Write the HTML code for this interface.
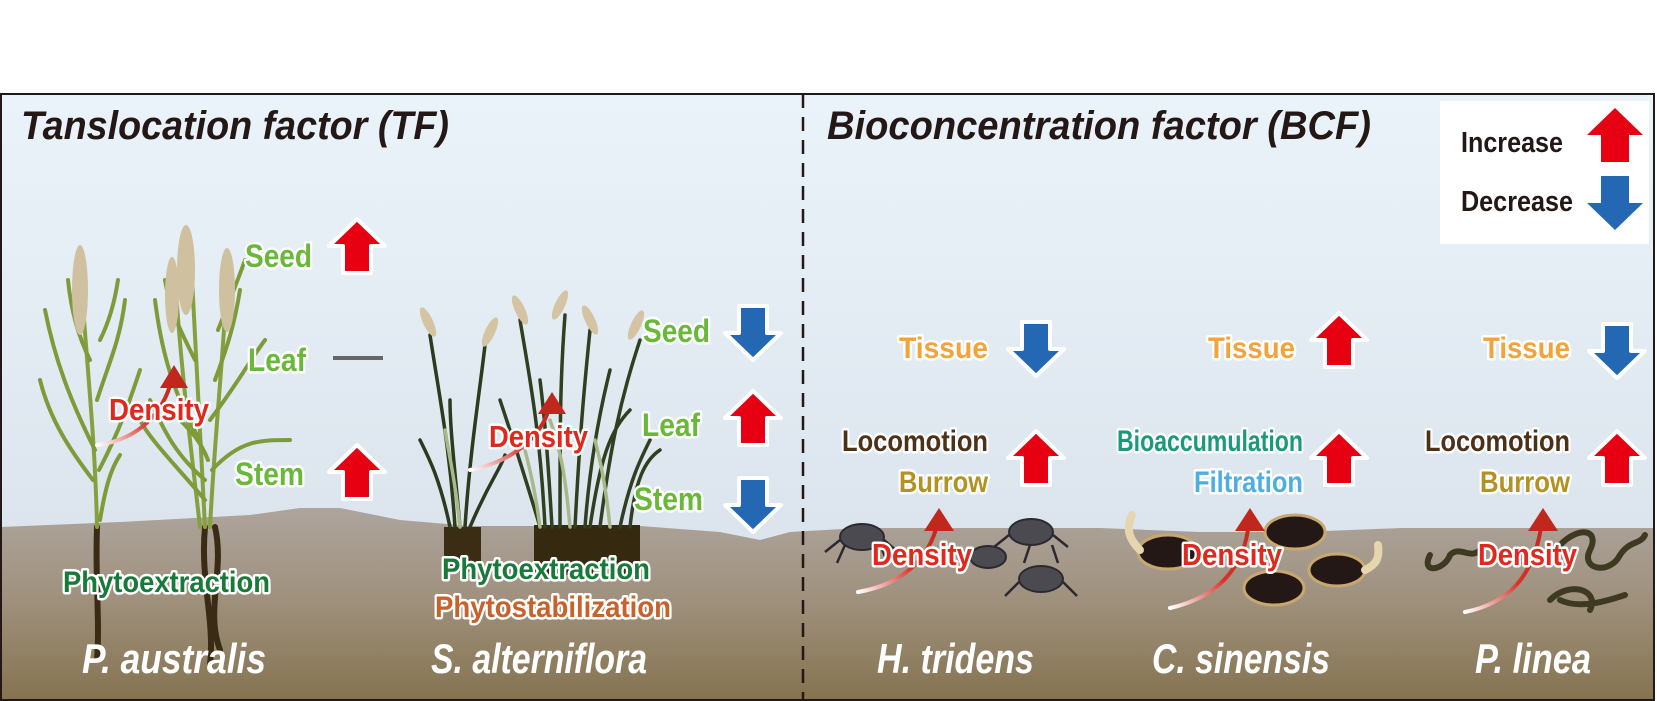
<!DOCTYPE html>
<html><head><meta charset="utf-8"><style>
html,body{margin:0;padding:0;background:#fff}
svg{display:block}
text{font-family:"Liberation Sans Narrow","Liberation Sans",sans-serif;font-weight:bold}
.o{stroke:#fff;stroke-width:5;paint-order:stroke;stroke-linejoin:round}
.sp{font-style:italic;fill:#fff;font-size:42px}
.ti{font-style:italic;fill:#231815;font-size:40px}
</style></head><body>
<svg width="1657" height="701" viewBox="0 0 1657 701" xmlns="http://www.w3.org/2000/svg">
<defs>
<linearGradient id="sky" x1="0" y1="0" x2="0" y2="1">
<stop offset="0" stop-color="#ebf3fa"/><stop offset="1" stop-color="#d6dfe8"/></linearGradient>
<linearGradient id="gr" x1="0" y1="0" x2="0" y2="1">
<stop offset="0" stop-color="#ada49d"/><stop offset="0.45" stop-color="#a0927f"/><stop offset="1" stop-color="#857350"/></linearGradient>
<linearGradient id="da" x1="0" y1="1" x2="1" y2="0">
<stop offset="0" stop-color="#fff"/><stop offset="0.5" stop-color="#d8322a"/><stop offset="1" stop-color="#c0281e"/></linearGradient>
<polygon id="up" points="0,0 28,27 14,27 14,54 -14,54 -14,27 -28,27"/>
<polygon id="dn" points="0,54 28,27 14,27 14,0 -14,0 -14,27 -28,27"/>
</defs>
<rect x="1" y="94" width="1653" height="606" fill="url(#sky)"/>
<path d="M1 527 L120 522 L250 515 L300 508 L340 508 L400 520 L470 526 L640 526 L720 532 L760 540 L790 532 L860 528 L1100 528 L1200 532 L1300 532 L1400 528 L1654 528 L1654 700 L1 700 Z" fill="url(#gr)"/>
<rect x="1" y="94" width="1653" height="606" fill="none" stroke="#231815" stroke-width="2"/>
<line x1="803" y1="94" x2="803" y2="700" stroke="#231815" stroke-width="2.5" stroke-dasharray="14,9"/>

<!-- P. australis -->
<g fill="none" stroke-linecap="round">
<path d="M97 527 C95 580 100 620 97 660 M205 527 C200 580 215 620 210 665 M215 527 C225 570 205 610 220 650" stroke="#3a2c14" stroke-width="6"/>
<path d="M97 527 C95 430 85 350 80 260 M205 527 C200 420 195 330 190 240 M210 527 C215 430 225 340 228 260 M200 527 C190 440 180 360 175 275" stroke="#86a040" stroke-width="4"/>
<path d="M95 450 C70 400 55 360 45 310 M97 400 C110 360 120 340 125 300 M93 480 C70 450 50 420 40 380 M99 470 C120 430 130 400 140 370 M100 520 C105 490 110 470 120 455 M200 440 C170 390 160 340 155 300 M210 420 C240 380 250 360 265 340 M205 480 C170 450 160 420 150 400 M212 470 C240 440 260 440 290 440 M205 500 C180 470 150 440 140 420 M215 380 C230 340 235 320 240 290 M90 360 C75 330 70 300 68 280 M100 340 C110 320 115 300 118 280 M195 360 C180 330 170 310 165 280 M218 330 C230 300 238 280 245 260 M208 460 C200 440 190 430 180 420" stroke="#7e9b3a" stroke-width="4"/>
</g>
<g fill="#cfc0a0">
<ellipse cx="80" cy="290" rx="8" ry="45"/><ellipse cx="186" cy="270" rx="9" ry="45"/><ellipse cx="227" cy="290" rx="8" ry="42"/><ellipse cx="172" cy="295" rx="7" ry="38"/>
</g>
<!-- S. alterniflora -->
<rect x="444" y="527" width="37" height="45" fill="#3a2d14"/>
<rect x="534" y="525" width="106" height="50" fill="#35290f"/>
<g fill="none" stroke-linecap="round" stroke-width="3.5">
<path d="M455 527 C450 450 440 400 430 335 M465 527 C470 450 480 390 485 345 M450 527 C440 480 430 460 420 440 M470 527 C490 480 500 470 505 455 M460 527 C455 470 450 430 450 400" stroke="#2c3a1e"/>
<path d="M545 527 C540 430 530 380 520 320 M560 527 C560 430 560 380 565 315 M575 527 C580 430 585 380 590 330 M600 527 C610 450 620 400 640 340 M620 527 C630 480 640 460 650 440 M540 527 C520 460 510 430 500 400 M590 527 C600 460 610 430 630 410 M552 527 C548 460 545 420 540 380 M585 527 C590 460 600 410 610 370 M630 527 C635 480 645 460 660 450" stroke="#2f4020"/>
<path d="M460 527 C455 480 450 460 445 430 M570 527 C565 470 560 450 550 420 M610 527 C605 480 600 460 595 440 M540 527 C535 490 530 470 525 450" stroke="#a8b888"/>
</g>
<g fill="#d4c4a4">
<ellipse cx="428" cy="322" rx="5" ry="16" transform="rotate(-25 428 322)"/><ellipse cx="490" cy="332" rx="5" ry="16" transform="rotate(25 490 332)"/>
<ellipse cx="520" cy="310" rx="5" ry="16" transform="rotate(-25 520 310)"/><ellipse cx="560" cy="305" rx="5" ry="16" transform="rotate(25 560 305)"/><ellipse cx="590" cy="320" rx="5" ry="16" transform="rotate(-25 590 320)"/><ellipse cx="636" cy="325" rx="5" ry="16" transform="rotate(25 636 325)"/>
</g>
<!-- crabs -->
<g fill="#4a4a50" stroke="#2a2a2e" stroke-width="2">
<ellipse cx="862" cy="537" rx="22" ry="13"/><ellipse cx="1031" cy="532" rx="22" ry="13"/><ellipse cx="988" cy="557" rx="18" ry="11"/><ellipse cx="1041" cy="579" rx="22" ry="13"/>
</g>
<g stroke="#2a2a2e" stroke-width="2.5" fill="none">
<path d="M840 540 l-15 12 M845 545 l-8 18 M884 540 l14 12 M880 545 l8 18 M1009 535 l-15 12 M1053 535 l15 12 M1019 582 l-14 14 M1063 582 l14 14 M1030 545 l-6 18 M1052 545 l6 18"/>
</g>
<!-- clams -->
<g fill="#231815" stroke="#c8a870" stroke-width="3">
<ellipse cx="1295" cy="532" rx="30" ry="17"/><ellipse cx="1168" cy="552" rx="30" ry="17"/><ellipse cx="1337" cy="570" rx="28" ry="16"/><ellipse cx="1274" cy="588" rx="30" ry="17"/>
</g>
<path d="M1140 550 C1130 540 1125 530 1132 515 M1365 570 C1375 565 1380 560 1378 545" stroke="#e6d6b0" stroke-width="8" fill="none" stroke-linecap="round"/>
<!-- worms -->
<g fill="none" stroke="#3e3a22" stroke-width="6" stroke-linecap="round">
<path d="M1430 555 C1420 575 1445 570 1450 555 C1460 545 1470 560 1480 550"/>
<path d="M1560 545 C1580 525 1600 530 1590 550 C1580 570 1610 575 1620 555 C1630 540 1640 545 1645 535"/>
<path d="M1550 600 C1570 580 1600 590 1590 610 M1560 600 C1580 610 1610 600 1625 595"/>
</g>

<!-- density arrows -->
<g fill="none" stroke="url(#da)" stroke-width="4" stroke-linecap="round">
<path d="M97 445 C140 440 165 410 172 378"/>
<path d="M470 470 C520 460 545 430 550 404"/>
<path d="M858 592 C900 585 930 560 938 521"/>
<path d="M1170 608 C1215 598 1245 570 1249 521"/>
<path d="M1465 612 C1510 603 1535 575 1542 521"/>
</g>
<g fill="#c0281e">
<polygon points="174,365 188,388 160,388"/><polygon points="552,392 566,414 538,414"/><polygon points="939,508 954,531 924,531"/><polygon points="1250,508 1265,531 1235,531"/><polygon points="1543,508 1558,531 1528,531"/>
</g>

<!-- arrows with white outline -->
<g stroke="#fff" stroke-width="4" stroke-linejoin="round">
<use href="#up" fill="#e60012" x="357" y="219"/>
<use href="#up" fill="#e60012" x="357" y="445"/>
<use href="#dn" fill="#2468b4" x="753" y="306"/>
<use href="#up" fill="#e60012" x="753" y="391"/>
<use href="#dn" fill="#2468b4" x="753" y="478"/>
<use href="#dn" fill="#2468b4" x="1036" y="322"/>
<use href="#up" fill="#e60012" x="1036" y="431"/>
<use href="#up" fill="#e60012" x="1339" y="313"/>
<use href="#up" fill="#e60012" x="1339" y="431"/>
<use href="#dn" fill="#2468b4" x="1617" y="324"/>
<use href="#up" fill="#e60012" x="1617" y="431"/>
</g>
<line x1="333" y1="358" x2="383" y2="358" stroke="#666" stroke-width="4"/>

<!-- legend -->
<rect x="1440" y="101" width="209" height="143" fill="#fff"/>
<text x="1461" y="152" font-size="29" fill="#231815" textLength="102" lengthAdjust="spacingAndGlyphs">Increase</text>
<text x="1461" y="211" font-size="29" fill="#231815" textLength="112" lengthAdjust="spacingAndGlyphs">Decrease</text>
<use href="#up" fill="#e60012" x="1615" y="108"/>
<use href="#dn" fill="#2468b4" x="1615" y="176"/>

<!-- titles -->
<text class="ti" x="21" y="139" textLength="428" lengthAdjust="spacingAndGlyphs">Tanslocation factor (TF)</text>
<text class="ti" x="827" y="139" textLength="544" lengthAdjust="spacingAndGlyphs">Bioconcentration factor (BCF)</text>

<!-- labels -->
<g class="o" font-size="32">
<text x="245" y="267" fill="#6ab83a" textLength="67" lengthAdjust="spacingAndGlyphs">Seed</text>
<text x="248" y="371" fill="#6ab83a" textLength="58" lengthAdjust="spacingAndGlyphs">Leaf</text>
<text x="235" y="485" fill="#6ab83a" textLength="69" lengthAdjust="spacingAndGlyphs">Stem</text>
<text x="643" y="342" fill="#6ab83a" textLength="67" lengthAdjust="spacingAndGlyphs">Seed</text>
<text x="642" y="436" fill="#6ab83a" textLength="58" lengthAdjust="spacingAndGlyphs">Leaf</text>
<text x="634" y="510" fill="#6ab83a" textLength="69" lengthAdjust="spacingAndGlyphs">Stem</text>
</g>
<g class="o" font-size="31" fill="#e0291e">
<text x="109" y="420" textLength="100" lengthAdjust="spacingAndGlyphs">Density</text>
<text x="489" y="447" textLength="99" lengthAdjust="spacingAndGlyphs">Density</text>
<text x="872" y="565" textLength="100" lengthAdjust="spacingAndGlyphs">Density</text>
<text x="1182" y="565" textLength="100" lengthAdjust="spacingAndGlyphs">Density</text>
<text x="1478" y="565" textLength="99" lengthAdjust="spacingAndGlyphs">Density</text>
</g>
<g class="o" font-size="30">
<text x="63" y="592" fill="#187a3a" textLength="207" lengthAdjust="spacingAndGlyphs">Phytoextraction</text>
<text x="442" y="579" fill="#187a3a" textLength="208" lengthAdjust="spacingAndGlyphs">Phytoextraction</text>
<text x="435" y="617" fill="#c6622a" textLength="236" lengthAdjust="spacingAndGlyphs">Phytostabilization</text>
<text x="899" y="358" fill="#f4a23a" textLength="89" lengthAdjust="spacingAndGlyphs">Tissue</text>
<text x="1208" y="358" fill="#f4a23a" textLength="87" lengthAdjust="spacingAndGlyphs">Tissue</text>
<text x="1483" y="358" fill="#f4a23a" textLength="87" lengthAdjust="spacingAndGlyphs">Tissue</text>
<text x="842" y="451" fill="#4a3118" textLength="146" lengthAdjust="spacingAndGlyphs">Locomotion</text>
<text x="1425" y="451" fill="#4a3118" textLength="145" lengthAdjust="spacingAndGlyphs">Locomotion</text>
<text x="899" y="492" fill="#b39222" textLength="89" lengthAdjust="spacingAndGlyphs">Burrow</text>
<text x="1480" y="492" fill="#b39222" textLength="90" lengthAdjust="spacingAndGlyphs">Burrow</text>
<text x="1117" y="451" fill="#1a9a7c" textLength="186" lengthAdjust="spacingAndGlyphs">Bioaccumulation</text>
<text x="1194" y="492" fill="#4eaee2" textLength="109" lengthAdjust="spacingAndGlyphs">Filtration</text>
</g>
<text class="sp" x="82" y="673" textLength="184" lengthAdjust="spacingAndGlyphs">P. australis</text>
<text class="sp" x="431" y="673" textLength="216" lengthAdjust="spacingAndGlyphs">S. alterniflora</text>
<text class="sp" x="877" y="673" textLength="157" lengthAdjust="spacingAndGlyphs">H. tridens</text>
<text class="sp" x="1152" y="673" textLength="178" lengthAdjust="spacingAndGlyphs">C. sinensis</text>
<text class="sp" x="1475" y="673" textLength="116" lengthAdjust="spacingAndGlyphs">P. linea</text>
</svg>
</body></html>
